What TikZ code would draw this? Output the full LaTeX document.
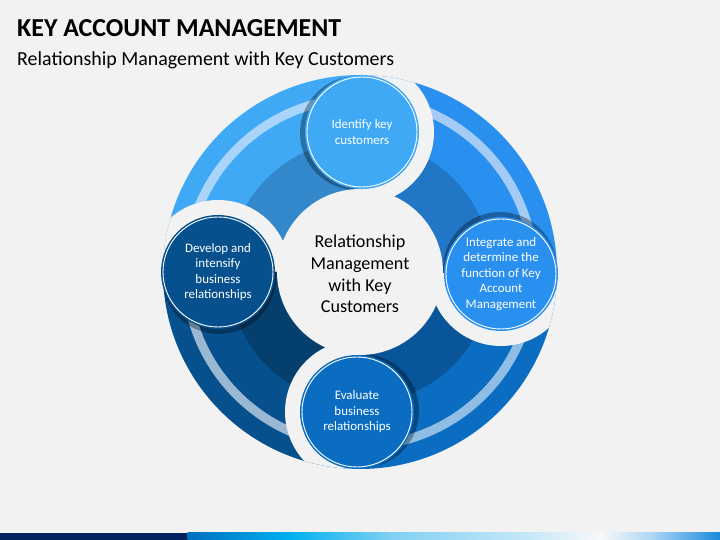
\documentclass[tikz,border=0pt]{standalone}
\usepackage{fontspec}
\setmainfont{Carlito}
\definecolor{bg}{HTML}{F2F2F2}
\definecolor{tlout}{HTML}{3FA9F5}\definecolor{tlin}{HTML}{3388CB}\definecolor{tlst}{HTML}{A9D5FA}
\definecolor{trout}{HTML}{2A90EF}\definecolor{trin}{HTML}{2176C5}\definecolor{trst}{HTML}{A3CBF6}
\definecolor{brout}{HTML}{0A6DC2}\definecolor{brin}{HTML}{08559A}\definecolor{brst}{HTML}{90BDE4}
\definecolor{blout}{HTML}{07508E}\definecolor{blin}{HTML}{043F6D}\definecolor{blst}{HTML}{9BB8D3}
\definecolor{navy}{HTML}{002060}
% #1 start angle, #2 end angle, #3 outer, #4 inner, #5 stripe, #6 halo centre, #7 shadow centre
\newcommand{\keysector}[7]{%
  \fill[#3, shift={(360,268)}] (0,0) -- (#1:197) arc[start angle=#1, end angle=#2, radius=197] -- cycle;
  \fill[#4, shift={(360,268)}] (0,0) -- (#1:132) arc[start angle=#1, end angle=#2, radius=132] -- cycle;
  \fill[#5, shift={(360,268)}] (#1:178.5) arc[start angle=#1, end angle=#2, radius=178.5] -- (#2:169.5) arc[start angle=#2, end angle=#1, radius=169.5] -- cycle;
  \begin{scope}
    \clip[shift={(360,268)}] (0,0) -- (#1:197) arc[start angle=#1, end angle=#2, radius=197] -- cycle;
    \fill[bg] #6 circle[radius=72];
    \fill[black, opacity=0.32] #7 circle[radius=57];
  \end{scope}}
\begin{document}
\begin{tikzpicture}[x=1bp,y=1bp,
  stepcirc/.style={circle, draw=white, line width=0.9bp, minimum size=110bp, inner sep=0pt,
    align=center, text=white, font=\fontsize{13}{15.6}\selectfont},
  centretext/.style={align=center, text=black, font=\fontsize{18.2}{21.7}\selectfont},
  titletext/.style={anchor=base west, inner sep=0pt, font=\fontsize{26}{30}\selectfont\bfseries},
  subtitletext/.style={anchor=base west, inner sep=0pt, font=\fontsize{20}{24}\selectfont}]
\useasboundingbox (0,0) rectangle (720,540);
\fill[bg] (0,0) rectangle (720,540);

% ring sectors
\keysector{89.2}{180}{tlout}{tlin}{tlst}{(218,268)}{(357,407)}
\keysector{-0.8}{89.2}{trout}{trin}{trst}{(362,408)}{(500,271)}
\keysector{-91.2}{-0.8}{brout}{brin}{brst}{(501,266)}{(362,129)}
\keysector{180}{268.8}{blout}{blin}{blst}{(357,128)}{(219,263)}

% centre
\fill[bg] (360,268) circle[radius=83];
\node[centretext] (centre) at (360,266) {Relationship\\Management\\with Key\\Customers};

% step circles
\fill[tlout] (362,408) circle[radius=57];
\node[stepcirc] (identify) at (362,408) {Identify key\\customers};
\fill[trout] (501,266) circle[radius=57];
\node[stepcirc] (integrate) at (501,266) {Integrate and\\determine the\\function of Key\\Account\\Management};
\fill[brout] (357,128) circle[radius=57];
\node[stepcirc] (evaluate) at (357,128) {Evaluate\\business\\relationships};
\fill[blout] (218,268) circle[radius=57];
\node[stepcirc] (develop) at (218,268) {Develop and\\intensify\\business\\relationships};

% titles
\node[titletext] (title) at (17,503.5) {KEY ACCOUNT MANAGEMENT};
\node[subtitletext] (subtitle) at (17,474.5) {Relationship Management with Key Customers};

% bottom bar
\fill[navy] (0,0) rectangle (188,7);
\shade[left color={rgb,255:red,0;green,112;blue,192}, right color={rgb,255:red,0;green,176;blue,240}] (187.5,0) rectangle (290.5,7);
\shade[left color={rgb,255:red,0;green,176;blue,240}, right color={rgb,255:red,127;green,208;blue,242}] (290,0) rectangle (390.5,7);
\shade[left color={rgb,255:red,127;green,208;blue,242}, right color={rgb,255:red,200;green,232;blue,248}] (390,0) rectangle (530.5,7);
\shade[left color={rgb,255:red,200;green,232;blue,248}, right color={rgb,255:red,248;green,248;blue,248}] (530,0) rectangle (600.5,7);
\shade[left color={rgb,255:red,248;green,248;blue,248}, right color={rgb,255:red,176;green,216;blue,245}] (600,0) rectangle (650.5,7);
\shade[left color={rgb,255:red,176;green,216;blue,245}, right color={rgb,255:red,26;green,138;blue,221}] (650,0) rectangle (720,7);
\end{tikzpicture}
\end{document}
